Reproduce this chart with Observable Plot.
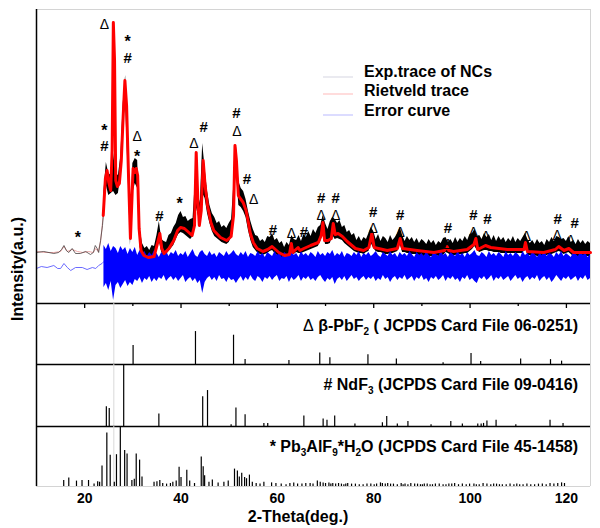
<!DOCTYPE html>
<html><head><meta charset="utf-8">
<script src="https://cdn.jsdelivr.net/npm/d3@7"></script>
<script src="https://cdn.jsdelivr.net/npm/@observablehq/plot@0.6"></script>
<style>
html,body{margin:0;padding:0;background:#fff;}
#chart{width:600px;height:528px;position:relative;overflow:hidden;}
#chart > svg{display:block;}
</style></head><body><div id="chart"></div>
<script>
const FONT = "'Liberation Sans', Arial, Helvetica, sans-serif";
const xDomain = [10, 125];
const xTickLabels = [20, 40, 60, 80, 100, 120];
const xMinorTicks = [30, 50, 70, 90, 110];

// thin traces below 24 deg
const expThinX = [10, 11.5, 13.6, 14.6, 15.2, 15.7, 16.2, 16.7, 17.4, 18.1, 19.1, 20.2, 21.2, 21.8, 22.2, 22.6, 22.9, 23.3, 23.7, 24.0];
const expThinY = [51, 52, 50, 51, 54, 58, 53, 51, 55, 50, 50, 52, 49, 51, 58, 55, 51, 63, 78, 96];
const rietThinX = [10, 12.0, 13.6, 15.0, 15.7, 16.4, 17.4, 18.5, 19.6, 20.8, 21.8, 22.3, 22.8, 23.3, 23.85];
const rietThinY = [52, 51, 51, 52, 57, 52, 54, 52, 51, 52, 51, 55, 52, 62, 88];
const errThinX = [10, 11.0, 12.2, 13.6, 14.4, 15.0, 15.7, 16.4, 17.1, 18.1, 19.5, 20.5, 21.6, 22.3, 22.9, 23.6, 24.0];
const errThinY = [35, 37, 36, 38, 35, 35, 40, 36, 33, 36, 36, 34, 36, 35, 38, 40, 42];

// Rietveld trace
const rietX = [23.85,24.3,24.65,25.0,25.4,25.7,25.95,26.2,26.45,26.8,27.2,27.6,28.0,28.35,28.7,29.1,29.5,29.8,30.05,30.4,30.7,31.0,31.3,31.7,32.3,33.2,34.4,35.0,35.6,36.0,36.5,37.5,38.5,39.3,39.9,40.7,41.4,42.3,42.8,43.15,43.5,43.8,44.2,44.6,45.0,45.5,46.2,46.8,48.2,49.5,50.4,50.9,51.2,51.5,51.9,52.3,52.9,53.5,53.9,54.4,55.0,55.8,57.0,58.0,58.9,59.6,60.3,61.5,62.5,62.9,63.2,63.6,64.3,64.7,65.5,66.9,68.5,69.1,69.45,69.8,70.5,71.2,71.6,72.0,72.6,73.5,74.5,76.2,77.9,79.0,79.6,80.1,82.8,84.9,85.5,86.0,89.0,92.5,94.7,95.2,95.6,96.6,99.4,100.8,101.2,101.6,103.2,104.3,107.7,111.2,111.5,111.9,115.3,117.7,118.4,119.5,120.5,121.5,124.7,125];
const rietY = [88,125,133,121,113,153,281,243,123,117,120,143,188,223,198,128,65,103,135,131,135,128,75,53,48,46,47,58,70,55,50,55,63,73,76,75,72,68,78,151,103,78,93,143,118,98,81,73,66,63,67,88,158,143,108,105,101,93,83,70,61,55,52,54,57,54,51,48,49,60,51,53,56,53,55,58,61,68,81,63,63,65,80,69,70,67,62,55,53,56,70,56,53,55,65,55,53,51,53,57,53,52,54,59,65,54,58,56,54,54,61,52,51,54,57,53,55,51,51,51];

// experimental trace (envelope) and error curve, scanned every 0.5 deg from 24 to 125
const scanStart = 24, scanEnd = 125, scanStep = 0.5;
const expHi = [112,141,130,128,150,130,128,147,200,228,158,75,140,145,
143,75,60,55,57,53,58,57,68,82,64,62,61,68,
70,76,80,88,92,86,87,82,84,85,125,112,100,160,
135,112,98,90,86,80,82,76,78,75,80,84,122,158,
122,115,112,104,92,82,74,68,67,62,64,61,67,66,
70,63,65,60,62,56,61,58,68,64,63,68,62,69,
66,72,67,74,70,76,78,88,80,74,82,86,84,80,
83,76,78,71,73,68,70,63,67,62,66,64,70,76,
72,64,69,62,67,65,61,68,63,66,70,76,68,62,
67,63,66,61,65,60,64,62,59,64,60,63,58,62,
60,65,66,61,64,60,66,61,65,62,67,63,69,70,
74,67,68,64,70,66,69,63,68,62,67,63,66,61,
65,62,67,61,65,62,66,70,64,60,63,59,64,60,
62,58,64,61,66,62,67,66,64,65,62,67,61,63,
59,64,60,63,59,62,60];
const expLo = [88,118,108,110,112,108,110,128,178,200,132,58,110,120,
115,56,47,44,43,44,44,45,54,62,51,47,49,52,
55,58,64,69,71,70,68,66,64,67,100,90,78,110,
105,90,80,72,67,65,63,61,60,59,61,66,100,132,
98,96,92,86,73,63,56,53,50,49,48,49,50,52,
53,50,48,47,45,44,45,45,51,49,51,50,50,51,
52,53,54,55,56,57,62,70,59,59,60,68,64,65,
64,63,60,58,56,54,52,51,50,50,49,51,52,60,
55,52,51,51,50,49,49,50,50,51,52,59,51,51,
50,50,49,49,49,48,48,47,48,47,47,47,48,47,
48,48,51,50,48,48,48,49,49,49,50,50,52,54,
57,53,51,52,53,53,52,52,51,51,51,50,50,50,
50,50,50,50,50,50,50,55,48,48,47,48,47,47,
47,48,48,49,49,50,51,52,51,49,50,51,49,47,
47,47,47,47,47,47,47];
const errHi = [58,54,60,52,57,55,50,57,53,56,49,55,51,56,
48,53,49,52,47,51,48,53,50,46,51,48,52,47,
51,49,53,47,50,48,52,46,50,54,48,46,51,53,
49,47,52,48,50,46,51,49,47,52,48,50,53,49,
47,51,48,52,46,50,49,47,52,48,50,46,51,49,
47,52,48,50,46,51,49,47,53,48,50,46,52,48,
50,47,51,49,46,52,48,50,47,51,49,53,47,50,
48,52,46,50,49,47,51,48,52,46,50,48,51,47,
49,52,48,46,51,49,47,52,48,50,46,51,48,50,
47,52,49,46,51,48,50,47,52,48,46,51,49,47,
52,48,50,46,51,49,47,52,48,50,46,51,48,50,
53,48,47,51,49,46,52,48,50,47,51,49,46,52,
48,50,47,51,49,46,52,48,50,47,51,49,46,50,
48,52,47,50,49,46,51,48,52,47,50,48,46,51,
49,47,52,48,50,46,49];
const errLo = [16,20,13,22,3,18,21,15,19,23,17,21,18,24,
22,26,20,25,23,27,21,25,22,26,24,28,22,25,
27,23,26,22,25,28,21,24,26,22,25,20,23,10,
21,25,27,23,26,22,28,24,25,21,26,23,24,20,
24,27,22,26,23,28,24,22,27,25,21,26,24,27,
23,26,28,22,25,24,27,21,26,23,25,28,22,26,
24,27,23,25,22,26,28,24,21,25,23,26,19,24,
26,23,27,22,25,28,24,26,22,25,27,23,26,24,
27,22,25,23,28,24,26,21,25,27,23,26,24,28,
23,25,27,22,26,24,28,23,25,21,26,24,27,23,
25,28,22,26,24,27,23,25,21,26,24,28,23,25,
22,20,26,24,27,23,25,28,22,26,24,27,23,25,
27,22,25,28,24,26,21,25,27,23,26,24,28,22,
25,27,23,26,21,24,28,25,22,26,24,27,23,25,
27,22,26,24,28,23,25];

// phase markers on the measured pattern
const markX = [18.6,24.1,24.1,24.1,28.9,28.9,30.9,30.9,35.5,39.7,42.7,44.7,51.5,51.6,53.7,55.1,59.1,62.9,65.5,69.1,69.1,72.1,72.1,79.9,79.9,85.5,85.5,95.4,95.4,100.7,100.7,103.6,103.3,111.7,118.2,118.1,121.7,120.9];
const markY = [70,177,157,279,266,245,167,151,87,104,160,176,190,172,124,104,73,70,71,105,88,105,88,91,75,88,71,75,59,88,71,84,67,67,84,68,80,63];
const markSym = ["*","*","#","Δ","*","#","Δ","*","#","*","Δ","#","#","Δ","#","Δ","#","Δ","#","#","Δ","#","Δ","#","Δ","#","Δ","#","Δ","#","Δ","#","Δ","Δ","#","Δ","#","Δ"];

// reference patterns (relative intensity, %)
const pbf2Strongest = 26.05;
const pbf2X = [30.05,43.0,50.9,53.3,62.4,68.8,70.9,78.8,84.7,94.4,100.2,102.2,110.5,116.7,119.0];
const pbf2H = [31,54,48,8,6.5,19,11,16,9,3,18,5,9,8,5.5];
const ndf3X = [24.5,25.1,28.1,35.4,44.5,45.5,50.4,51.4,53.3,57.2,58.0,65.5,69.5,70.3,71.9,76.1,81.8,82.7,84.9,87.1,91.9,96.0,98.4,101.6,102.3,102.8,103.5,105.4,109.5,116.6,119.3];
const ndf3H = [32,29,100,20,48,58,3,30,19,5,5,17,12,10,17,4,6,16,4,8,3,8,4,4,4,5,9,10,3,10,5];
const pbalX = [15.65,16.7,18.3,19.45,20.8,21.95,22.7,23.1,23.6,24.6,25.3,26.15,26.6,27.4,28.3,28.8,29.8,30.3,30.7,31.4,31.9,34.4,35.0,35.6,36.2,37.0,37.8,38.3,39.0,39.6,40.0,41.2,41.8,42.8,44.2,44.6,44.9,45.8,46.5,47.7,48.9,49.8,51.1,51.7,52.1,52.6,53.2,53.6,54.2,54.8,
57.2,58.8,60.8,63.4,65.1,65.9,68.3,68.9,69.5,70.0,70.7,71.5,72.1,72.7,73.3,73.8,74.6,75.4,77.8,78.6,80.6,81.4,81.8,82.4,82.9,84.1,84.9,85.7,86.5,87.1,87.7,88.5,89.7,90.5,91.7,92.8,94.4,95.6,96.8,97.6,98.4,99.2,100.8,101.9,102.7,103.5,104.3,105.5,106.7,108.3,110.3,111.8,113.4,115.0,116.6,117.4,118.2,119.0,119.6,
55.6,56.4,59.7,61.8,62.6,64.2,66.8,67.4,71.1,74.2,76.2,77.0,79.4,80.1,83.5,86.1,89.1,90.1,91.1,92.2,93.6,95.0,96.2,99.9,101.3,104.9,106.1,107.5,109.1,109.7,111.0,112.6,114.2,115.8];
const pbalH = [10,14,9,10,10,4,8,7,34,89,52,7,53,100,60,54,10,12,54,44,16,7,8,10,5,4,5,7,9,32,15,27,9,5,49,33,18,7,11,6,7,9,29,26,16,22,15,13,19,7,
7,6,4,6,4,5,9,7,6,5,6,5,4,5,4,3,5,4,3,4,4,6,5,4,5,4,3,5,4,3,5,4,3,4,3,4,3,4,5,3,4,3,4,3,5,4,3,4,3,4,3,4,3,4,5,4,5,6,5,
5,4,5,3,5,4,5,4,4,4,4,3,4,3,4,3,4,3,4,3,4,3,4,4,3,4,3,3,3,4,3,3,4,3];

const phaseLabels = [
  [["Δ", "n"], [" β-PbF", "b"], ["2", "s"], [" ( JCPDS Card File 06-0251)", "b"]],
  [["# NdF", "b"], ["3", "s"], [" (JCPDS Card File 09-0416)", "b"]],
  [["* Pb", "b"], ["3", "s"], ["AlF", "b"], ["9", "s"], ["*H", "b"], ["2", "s"], ["O (JCPDS Card File 45-1458)", "b"]]
];
const legendLabels = ["Exp.trace of NCs", "Rietveld trace", "Error curve"];
const legendColors = ["#dcdce6", "#ffc4c4", "#c4c4ff"];
const xTitle = "2-Theta(deg.)";
const yTitle = "Intensity(a.u.)";

// ---------- build tables ----------
const zip = (xs, ys) => xs.slice(0, Math.min(xs.length, ys.length)).map((x, i) => ({x, y: ys[i]}));
const scanX = d3.range(scanStart, scanEnd + scanStep / 2, scanStep);
const nScan = Math.min(scanX.length, expHi.length, expLo.length, errHi.length, errLo.length);
const scan = d3.range(nScan).map(i => ({x: scanX[i], expHi: expHi[i], expLo: expLo[i], errHi: errHi[i], errLo: errLo[i]}));
const marks = markX.map((x, i) => ({x, y: markY[i], s: markSym[i]}));

const svgStyle = `font: bold 14px ${FONT}; overflow: visible; background: transparent;`;
const ML = 36, MR = 10;
const frameGray = "#d4d4d4";
const chart = document.getElementById("chart");

// top panel
const topPlot = Plot.plot({
  width: 600, height: 303, marginTop: 9, marginBottom: 0, marginLeft: ML, marginRight: MR,
  x: {domain: xDomain, axis: null},
  y: {domain: [0, 294], axis: null},
  style: svgStyle,
  marks: [
    Plot.ruleY([294], {stroke: frameGray}),
    Plot.ruleX([xDomain[1]], {stroke: frameGray}),
    Plot.line(zip(errThinX, errThinY), {x: "x", y: "y", stroke: "#5a5aff", strokeWidth: 0.9}),
    Plot.line(zip(rietThinX, rietThinY), {x: "x", y: "y", stroke: "#e79a9a", strokeWidth: 0.9}),
    Plot.line(zip(expThinX, expThinY), {x: "x", y: "y", stroke: "#4a4040", strokeWidth: 0.8}),
    Plot.areaY(scan, {x: "x", y1: "expLo", y2: "expHi", fill: "#000"}),
    Plot.areaY(scan, {x: "x", y1: "errLo", y2: "errHi", fill: "#0000ff"}),
    Plot.line(zip(rietX, rietY), {x: "x", y: "y", stroke: "#ff0000", strokeWidth: 3, strokeLinejoin: "round"}),
    Plot.text(marks.filter(d => d.s === "Δ"), {x: "x", y: "y", text: "s", fontSize: 14, fontWeight: "normal", fill: "#000"}),
    Plot.text(marks.filter(d => d.s === "#"), {x: "x", y: "y", text: "s", fontSize: 15, fontWeight: "bold", fill: "#000"}),
    Plot.text(marks.filter(d => d.s === "*"), {x: "x", y: "y", text: "s", fontSize: 16, fontWeight: "bold", fill: "#000", dy: 4}),
    Plot.ruleX([xDomain[0]], {stroke: "#000", strokeWidth: 1.5}),
    Plot.ruleY([0], {stroke: "#000", strokeWidth: 1.5})
  ]
});
chart.appendChild(topPlot);

function stickPanel(data, h, mb, opts = {}) {
  const inner = h - mb;
  const m = [
    Plot.ruleX([pbf2Strongest], {stroke: "#dadada", strokeWidth: 1}),
    Plot.ruleX(data, {x: "x", y1: 0, y2: "y", stroke: "#000", strokeWidth: 1.2}),
    Plot.ruleX([xDomain[1]], {stroke: frameGray}),
    Plot.ruleX([xDomain[0]], {stroke: "#000", strokeWidth: 1.5}),
    Plot.ruleY([0], {stroke: opts.bottomGray ? frameGray : "#000", strokeWidth: opts.bottomGray ? 1 : 1.5})
  ];
  if (opts.topTicks) {
    m.push(Plot.tickX(xTickLabels, {x: d => d, insetBottom: inner - 5, stroke: "#000", strokeWidth: 1.3}));
    m.push(Plot.tickX(xMinorTicks, {x: d => d, insetBottom: inner - 3, stroke: "#000", strokeWidth: 1.3}));
  }
  return Plot.plot({
    width: 600, height: h, marginTop: 0, marginBottom: mb, marginLeft: ML, marginRight: MR,
    x: opts.axis ? {domain: xDomain, ticks: xTickLabels, tickSize: 0, tickPadding: 7, label: null, tickFormat: d => String(d)} : {domain: xDomain, axis: null},
    y: {domain: [0, 100], axis: null},
    style: svgStyle,
    marks: m
  });
}
chart.appendChild(stickPanel(zip(pbf2X, pbf2H), 61, 0, {topTicks: true}));
chart.appendChild(stickPanel(zip(ndf3X, ndf3H), 62, 0));
chart.appendChild(stickPanel(zip(pbalX, pbalH), 102, 42, {axis: true, bottomGray: true}));

// overlay: titles, legend, phase labels
const ov = d3.create("svg").attr("width", 600).attr("height", 528)
  .style("position", "absolute").style("left", "0px").style("top", "0px")
  .style("pointer-events", "none")
  .attr("font-family", FONT);

ov.append("text").attr("transform", "translate(17,269) rotate(-90)")
  .attr("text-anchor", "middle").attr("dominant-baseline", "central")
  .attr("font-size", 16).attr("font-weight", "bold").text(yTitle);
ov.append("text").attr("x", 298).attr("y", 516)
  .attr("text-anchor", "middle").attr("dominant-baseline", "central")
  .attr("font-size", 16).attr("font-weight", "bold").text(xTitle);

const legY = [77, 96, 116], legLineY = [77, 94, 115];
legendLabels.forEach((t, i) => {
  ov.append("line").attr("x1", 323).attr("x2", 353).attr("y1", legLineY[i]).attr("y2", legLineY[i])
    .attr("stroke", legendColors[i]).attr("stroke-width", 1.2);
  ov.append("text").attr("x", 364).attr("y", legY[i]).attr("font-size", 16).attr("font-weight", "bold").text(t);
});

const labBase = [331, 390, 452];
phaseLabels.forEach((parts, i) => {
  const t = ov.append("text").attr("x", 578).attr("y", labBase[i]).attr("text-anchor", "end")
    .attr("font-size", 16).attr("font-weight", "bold");
  let shifted = false;
  parts.forEach(([s, kind]) => {
    const ts = t.append("tspan").text(s);
    if (kind === "s") { ts.attr("font-size", 10).attr("dy", 4); shifted = true; }
    else {
      if (shifted) { ts.attr("dy", -4); shifted = false; }
      if (kind === "n") ts.attr("font-weight", "normal");
    }
  });
});
chart.appendChild(ov.node());
</script></body></html>
